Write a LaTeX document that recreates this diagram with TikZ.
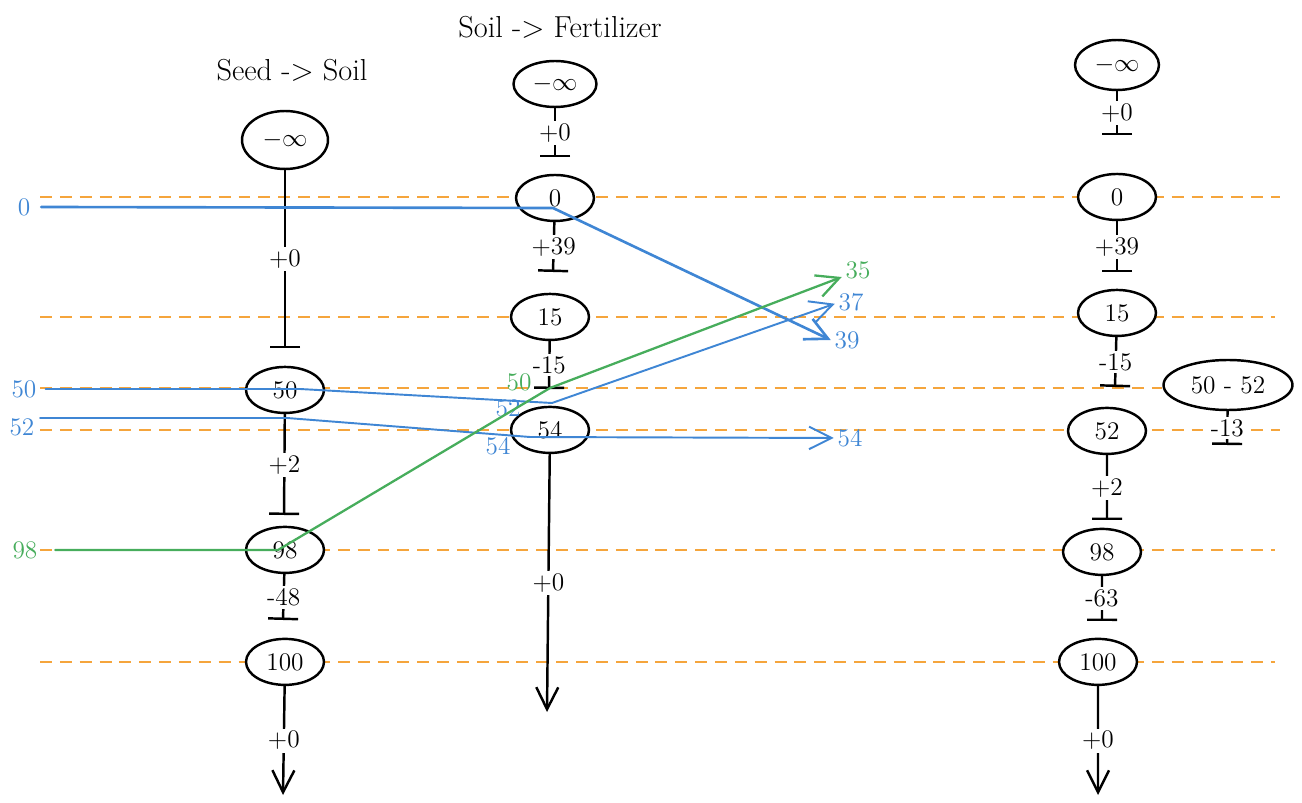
\documentclass[tikz,border=0pt]{standalone}
\usepackage{tikz}
\usetikzlibrary{arrows.meta,positioning,shapes.geometric}
\definecolor{mapblue}{HTML}{3F86D4}
\definecolor{mapgreen}{HTML}{47AD5C}
\definecolor{maporange}{HTML}{F5A53C}
\tikzset{on grid,
state/.style={ellipse, draw, fill=white, line width=1.4pt, inner sep=1pt, minimum width=1.56cm, minimum height=0.92cm, font=\Large},
offset/.style={fill=white, inner sep=1.5pt, font=\Large},
link/.style={line width=1.4pt, -{Bar[width=6mm]}},
tail/.style={line width=1.4pt, -{Straight Barb[length=4.4mm, width=4.4mm]}},
cut/.style={maporange, line width=0.9pt, dash pattern=on 6.8pt off 4.5pt},
flowlbl/.style={font=\Large, inner sep=2pt},
seed/.style={line width=1.1pt, line cap=round, line join=round, -{Straight Barb[length=4.5mm, width=4.5mm]}},
title/.style={font=\LARGE}}

\begin{document}
\begin{tikzpicture}[x=0.02cm, y=-0.02cm]
    \useasboundingbox (0,0) rectangle (1302,803);

    % Range cuts
    \draw[cut] (40,197) -- (1280,197);
    \draw[cut] (40,317) -- (1275,317);
    \draw[cut] (40,388) -- (1162,388);
    \draw[cut] (40,430) -- (1280,430);
    \draw[cut] (40,550) -- (1275,550);
    \draw[cut] (40,662) -- (1275,662);

    % Titles
    \node[title] (ttlseed) at (292,70) {Seed -> Soil};
    \node[title] (ttlsoil) at (560,27) {Soil -> Fertilizer};

    % Seed -> Soil
    \node[state, minimum width=1.72cm, minimum height=1.16cm] (sinf) at (285,140) {$-\infty$};
    \node[state, below=5cm of sinf] (s50) {50};
    \node[state, below=3.2cm of s50] (s98) {98};
    \node[state, below=2.24cm of s98] (s100) {100};
    \coordinate (sb1) at (285,348);
    \coordinate (sb2) at (284,515);
    \coordinate (sb3) at (283,620);
    \coordinate (send) at (283,795);
    \draw[link] (sinf) -- node[offset] {+0} (sb1);
    \draw[link] (s50) -- node[offset] {+2} (sb2);
    \draw[link] (s98) -- node[offset] {-48} (sb3);
    \draw[tail] (s100) -- node[offset] {+0} (send);

    % Soil -> Fertilizer
    \node[state, minimum width=1.66cm] (finf) at (555,84) {$-\infty$};
    \node[state, below=2.28cm of finf] (f0) {0};
    \node[state, below=2.38cm of f0, xshift=-0.1cm] (f15) {15};
    \node[state, below=2.26cm of f15] (f54) {54};
    \coordinate (fb1) at (555,157);
    \coordinate (fb2) at (553,272);
    \coordinate (fb3) at (549,389);
    \coordinate (fend) at (547,712);
    \draw[link] (finf) -- node[offset] {+0} (fb1);
    \draw[link] (f0) -- node[offset] {+39} (fb2);
    \draw[link] (f15) -- node[offset] {-15} (fb3);
    \draw[tail] (f54) -- node[offset] {+0} (fend);

    % Merged
    \node[state, minimum width=1.68cm, minimum height=1cm] (minf) at (1117,65) {$-\infty$};
    \node[state, below=2.64cm of minf] (m0) {0};
    \node[state, below=2.32cm of m0] (m15) {15};
    \node[state, below=2.36cm of m15, xshift=-0.2cm] (m52) {52};
    \node[state, below=2.42cm of m52, xshift=-0.1cm] (m98) {98};
    \node[state, below=2.2cm of m98, xshift=-0.08cm] (m100) {100};
    \node[state, minimum width=2.58cm, minimum height=1cm] (mside) at (1228,385) {50 - 52};
    \coordinate (mb1) at (1117,135);
    \coordinate (mb2) at (1117,272);
    \coordinate (mb3) at (1115,387);
    \coordinate (mb4) at (1107,520);
    \coordinate (mb5) at (1102,621);
    \coordinate (mb6) at (1227,445);
    \coordinate (mend) at (1098,795);
    \draw[link] (minf) -- node[offset] {+0} (mb1);
    \draw[link] (m0) -- node[offset] {+39} (mb2);
    \draw[link] (m15) -- node[offset] {-15} (mb3);
    \draw[link] (m52) -- node[offset] {+2} (mb4);
    \draw[link] (m98) -- node[offset] {-63} (mb5);
    \draw[link] (mside) -- node[offset] {-13} (mb6);
    \draw[tail] (m100) -- node[offset] {+0} (mend);

    % Seeds
    \node[flowlbl, mapblue] (in0) at (24,207) {0};
    \node[flowlbl, mapblue] (in50) at (24,389) {50};
    \node[flowlbl, mapblue] (in52) at (22,427) {52};
    \node[flowlbl, mapgreen] (in98) at (25,550) {98};
    \node[flowlbl, mapgreen] (out35) at (858,270) {35};
    \node[flowlbl, mapblue] (out37) at (851,302) {37};
    \node[flowlbl, mapblue] (out39) at (847,340) {39};
    \node[flowlbl, mapblue] (out54) at (850,438) {54};
    \node[flowlbl, mapgreen] (mid50) at (519,382) {50};
    \node[flowlbl, mapblue] (mid52) at (508,408) {52};
    \node[flowlbl, mapblue] (mid54) at (498,446) {54};
    \coordinate (k0) at (553,208);
    \coordinate (k50a) at (300,389);
    \coordinate (k50b) at (552,403);
    \coordinate (k52s) at (40,418);
    \coordinate (k52a) at (287,418);
    \coordinate (k52b) at (530,437);
    \coordinate (k98a) at (278,550);
    \coordinate (k98b) at (550,388);

    \draw[seed, mapblue, line width=1.5pt] ([xshift=4pt]in0.east) -- (k0) -- (out39.west);
    \draw[seed, mapblue] ([xshift=3pt]in50.east) -- (k50a) -- (k50b) -- ([yshift=-1pt]out37.west);
    \draw[seed, mapblue] (k52s) -- (k52a) -- (k52b) -- (out54.west);
    \draw[seed, mapgreen, line width=1.3pt] ([xshift=8pt]in98.east) -- (k98a) -- (k98b) -- ([yshift=-4pt]out35.west);
\end{tikzpicture}
\end{document}
